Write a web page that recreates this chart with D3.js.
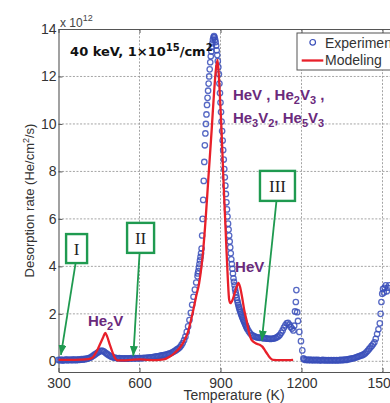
<!DOCTYPE html>
<html><head><meta charset="utf-8">
<script src="https://cdn.jsdelivr.net/npm/d3@7/dist/d3.min.js"></script>
<style>
  html,body{margin:0;padding:0;background:#fff;}
  svg{display:block;}
</style>
</head><body>
<svg id="chart" width="390" height="403"></svg>
<script>
// ---- axis ticks ----
const xTicks = [300, 600, 900, 1200, 1500];
const yTicks = [0, 2, 4, 6, 8, 10, 12, 14];

// ---- modelled desorption rate, [T (K), rate x1e12 He/cm^2/s] ----
const modelCurve = [
  [300,.06],[340,.06],[380,.07],[410,.09],[425,.15],[435,.3],[445,.5],[455,.75],[465,1.0],[473,1.2],
  [480,1.05],[490,.7],[500,.38],[510,.12],[518,.04],[540,.04],[570,.06],[600,.08],[630,.06],[660,.05],
  [690,.08],[713,.2],[730,.35],[750,.58],[765,.85],[780,1.25],[790,1.7],[800,2.2],[810,2.75],[821,3.3],
  [836,4.7],[845,6.0],[855,7.7],[867,9.7],[876,11.3],[883,12.3],[889,12.7],[894,12.0],[899,10.9],[904,9.7],
  [910,7.9],[916,6.3],[921,5.0],[927,3.5],[932,2.6],[937,2.45],[945,2.6],[952,2.85],[960,3.15],[966,3.3],
  [972,3.15],[980,2.7],[988,2.15],[997,1.7],[1005,1.25],[1015,0.9],[1030,0.76],[1045,0.7],[1055,0.62],[1065,0.45],
  [1075,0.28],[1085,0.13],[1095,0.06],[1120,0.05],[1150,0.05],[1169,0.06]
];

// ---- measured desorption rate, split by temperature range ----
const expLow = [
  [300,.06],[305,.04],[310,.07],[315,.03],[320,.06],[325,.05],[330,.08],[335,.04],[340,.06],[345,.07],
  [350,.04],[355,.08],[360,.06],[365,.05],[370,.08],[375,.06],[380,.07],[385,.09],[390,.07],[395,.10],
  [400,.09],[405,.11],[410,.12],[415,.15],[420,.17],[425,.21],[430,.25],[435,.29],[440,.33],[445,.37],
  [450,.40],[455,.43],[460,.45],[465,.43],[470,.40],[475,.35],[480,.31],[485,.27],[490,.23],[495,.20],
  [500,.18],[505,.16],[510,.15],[515,.14],[520,.13],[525,.14],[530,.12],[535,.13],[540,.11],[545,.13],
  [550,.12],[555,.11],[560,.13],[565,.12],[570,.14],[575,.12],[580,.13],[585,.14],[590,.12],[595,.14],
  [600,.13],[605,.14],[610,.13],[615,.15],[620,.14],[625,.15],[630,.16],[635,.15],[640,.17],[645,.17],
  [650,.18],[655,.19],[660,.20],[665,.21],[670,.21],[675,.23],[680,.24],[685,.25],[690,.26],[695,.27],
  [700,.28],[705,.30],[710,.32],[715,.34],[720,.37],[725,.40],[730,.43],[735,.47],[740,.51],[745,.55],
  [750,.60],[755,.68],[760,.77],[765,.89],[770,1.04],[775,1.24],[780,1.47],[785,1.74],[790,2.04],[795,2.38],
  [800,2.72],[805,3.02],[810,3.32],[815,3.58]
];
const expPeak = [
  [816,3.7],[818,3.8],[820,3.95],[822,4.1],[824,4.25],[826,4.4],[828,4.55],[830,4.75],[832,5.3],[834,6.0],
  [836,6.8],[838,7.6],[840,8.4],[842,9.1],[844,9.6],[846,10.0],[848,10.4],[850,10.8],[852,11.1],[854,11.4],
  [856,11.7],[858,12.0],[860,12.3],[862,12.6],[864,12.85],[866,13.05],[868,13.25],[870,13.4],[872,13.55],[874,13.65],
  [876,13.7],[878,13.65],[880,13.55],[882,13.45],[884,13.3],[886,13.1],[888,12.9],[890,12.65],[892,12.4],[894,12.1],
  [896,11.7],[898,11.3],[900,10.9],[902,10.5],[904,10.1],[906,9.7],[908,9.3],[910,8.9],[912,8.5],[914,8.1],
  [916,7.75],[918,7.4],[920,7.05],[922,6.7],[924,6.4],[926,6.1],[928,5.8],[930,5.55],[932,5.3],[934,5.05],
  [936,4.8],[938,4.55],[940,4.3],[942,4.1],[944,3.9],[946,3.7],[948,3.5],[950,3.35],[952,3.2],[954,3.05],
  [956,2.92],[958,2.8],[960,2.68],[962,2.57],[964,2.47],[966,2.38],[968,2.29],[970,2.21],[972,2.14],[974,2.07],
  [976,2.0],[978,1.94],[980,1.88],[982,1.82],[984,1.76],[986,1.71],[988,1.66],[990,1.6],[992,1.55],[994,1.5],
  [996,1.45],[998,1.4],[1000,1.35]
];
const expTail = [
  [1005,1.26],[1010,1.18],[1015,1.12],[1020,1.08],[1025,1.05],[1030,1.03],[1035,1.01],[1040,1.0],[1045,0.99],[1050,1.0],
  [1055,0.98],[1060,0.97],[1065,0.98],[1070,0.96],[1075,0.95],[1080,0.96],[1085,0.94],[1090,0.95],[1095,0.96],[1100,0.97],
  [1105,0.99],[1110,1.02],[1115,1.06],[1120,1.12],[1125,1.2],[1130,1.3],[1135,1.42],[1140,1.52],[1145,1.6],[1150,1.62],
  [1155,1.55],[1160,1.45],[1165,1.38],[1170,1.3],[1173,1.5],[1176,2.1],[1179,2.5],[1181,3.0],[1184,2.07],[1187,1.7],
  [1192,1.24],[1198,0.85],[1203,0.46],[1207,0.12]
];
const expHigh = [
  [1210,.08],[1215,.06],[1220,.07],[1225,.05],[1230,.07],[1235,.05],[1240,.06],[1245,.05],[1250,.06],[1255,.05],
  [1260,.06],[1265,.05],[1270,.04],[1275,.05],[1280,.06],[1285,.04],[1290,.05],[1295,.04],[1300,.05],[1305,.04],
  [1310,.05],[1315,.04],[1320,.05],[1325,.04],[1330,.05],[1335,.04],[1340,.05],[1345,.06],[1350,.05],[1355,.06],
  [1360,.07],[1365,.06],[1370,.08],[1375,.09],[1380,.10],[1385,.11],[1390,.13],[1395,.14],[1400,.16],[1405,.18],
  [1410,.20],[1415,.22],[1420,.24],[1425,.26],[1430,.29],[1435,.33],[1440,.38],[1445,.44],[1450,.51],[1455,.58],
  [1460,.65],[1465,.72],[1470,.80],[1475,.95],[1480,1.15],[1485,1.35],[1490,1.6],[1493,2.0],[1496,2.5],[1499,2.85],
  [1502,3.05],[1505,2.9],[1508,3.1],[1512,3.2],[1516,2.95],[1520,3.1],[1525,3.2]
];

// ---- text annotations (anchored in data space) ----
const speciesLabels = [
  {T: 409, v: 1.49, parts: [["He"],["2","sub"],["V"]]},
  {T: 954, v: 3.78, parts: [["HeV"]]},
  {T: 946, v: 11.01, parts: [["HeV , He"],["2","sub"],["V"],["3","sub"],[" ,"]]},
  {T: 946, v: 10.04, parts: [["He"],["3","sub"],["V"],["2","sub"],[", He"],["5","sub"],["V"],["3","sub"]]}
];
const stageBoxes = [
  {label: "I",   T: 367,  v: 4.75, w: 21, h: 29, tipT: 309,  tipV: 0.27},
  {label: "II",  T: 604,  v: 5.2,  w: 27, h: 30, tipT: 577,  tipV: 0.22},
  {label: "III", T: 1111, v: 7.39, w: 35, h: 30, tipT: 1053, tipV: 0.87}
];

const svg = d3.select("#chart");
const x = d3.scaleLinear().domain([300, 1600]).range([58.5, 409.5]);
const y = d3.scaleLinear().domain([-0.45, 14]).range([372, 29]);
const [yBot, yTop] = y.range();
const [xL, xR] = x.range();

const axisFont = "'Liberation Sans', Arial, Helvetica, sans-serif";
const boldFont = "'DejaVu Sans', 'Liberation Sans', sans-serif";

// dotted grid
const grid = svg.append("g").attr("stroke", "#9a9a9a").attr("stroke-width", 0.9)
  .attr("stroke-dasharray", "2,1.6");
grid.selectAll("line.gx").data(xTicks.filter(d => d > 300)).join("line")
  .attr("x1", d => x(d)).attr("x2", d => x(d)).attr("y1", yTop).attr("y2", yBot);
grid.selectAll("line.gy").data(yTicks.filter(d => d < 14)).join("line")
  .attr("y1", d => y(d)).attr("y2", d => y(d)).attr("x1", xL).attr("x2", xR);

// axes
function styleAxis(g) {
  g.selectAll(".domain").attr("stroke", "#555").attr("stroke-width", 1.1);
  g.selectAll(".tick line").attr("stroke", "#555");
  g.selectAll(".tick text").attr("fill", "#333").style("font-family", axisFont).style("font-size", "14px");
}
svg.append("g").attr("transform", `translate(0,${yBot})`)
  .call(d3.axisBottom(x).tickValues(xTicks).tickFormat(d3.format("d"))
    .tickSize(-4).tickSizeOuter(0).tickPadding(6))
  .call(styleAxis);
svg.append("g").attr("transform", `translate(0,${yTop})`)
  .call(d3.axisTop(x).tickValues(xTicks).tickSize(-4).tickSizeOuter(0).tickFormat(""))
  .call(styleAxis);
svg.append("g").attr("transform", `translate(${xL},0)`)
  .call(d3.axisLeft(y).tickValues(yTicks).tickSize(-4).tickSizeOuter(0).tickPadding(2))
  .call(styleAxis);

// exponent note above the y axis
const expo = svg.append("text").attr("x", xL + 1.5).attr("y", yTop - 2)
  .attr("fill", "#444").style("font-family", axisFont).style("font-size", "12px");
expo.append("tspan").text("x 10");
expo.append("tspan").attr("dy", -6).style("font-size", "9px").text("12");

// axis titles
svg.append("text").attr("x", (xL + xR) / 2).attr("y", 400).attr("text-anchor", "middle")
  .attr("fill", "#333").style("font-family", axisFont).style("font-size", "14px")
  .text("Temperature (K)");
const yl = svg.append("text")
  .attr("transform", `translate(34,${(yTop + yBot) / 2}) rotate(-90)`)
  .attr("text-anchor", "middle").attr("fill", "#333")
  .style("font-family", axisFont).style("font-size", "13px");
yl.append("tspan").text("Desorption rate (He/cm");
yl.append("tspan").attr("dy", -5).style("font-size", "9px").text("2");
yl.append("tspan").attr("dy", 5).text("/s)");

// measured data: open circles
const expAll = [...expLow, ...expPeak, ...expTail, ...expHigh];
svg.append("g").attr("fill", "none").attr("stroke", "#3a4fba").attr("stroke-width", 1.3)
  .attr("stroke-opacity", 0.85)
  .selectAll("circle").data(expAll).join("circle")
  .attr("cx", d => x(d[0])).attr("cy", d => y(d[1])).attr("r", 2.7);

// model curve
svg.append("path").datum(modelCurve)
  .attr("fill", "none").attr("stroke", "#e8202a").attr("stroke-width", 2.3)
  .attr("stroke-linejoin", "round")
  .attr("d", d3.line().x(d => x(d[0])).y(d => y(d[1])).curve(d3.curveMonotoneX));

// title
const title = svg.append("text").attr("x", x(343)).attr("y", y(12.87))
  .attr("fill", "#111").style("font-family", boldFont).style("font-weight", "bold").style("font-size", "13px");
title.append("tspan").text("40 keV, 1\u00d710");
title.append("tspan").attr("dy", -5).style("font-size", "10px").text("15");
title.append("tspan").attr("dy", 5).text("/cm");
title.append("tspan").attr("dy", -5).style("font-size", "10px").text("2");

// species labels
speciesLabels.forEach(l => {
  const t = svg.append("text").attr("x", x(l.T)).attr("y", y(l.v))
    .attr("fill", "#6a2a7c").style("font-family", axisFont).style("font-weight", "bold").style("font-size", "15px");
  let shifted = false;
  l.parts.forEach(([s, kind]) => {
    const sp = t.append("tspan").text(s);
    if (kind === "sub" && !shifted) { sp.attr("dy", 4).style("font-size", "11px"); shifted = true; }
    else if (kind === "sub") { sp.style("font-size", "11px"); }
    else if (shifted) { sp.attr("dy", -4); shifted = false; }
  });
});

// stage boxes with arrows
const green = "#1f9a50";
const defs = svg.append("defs");
defs.append("marker").attr("id", "arrowHead").attr("markerUnits", "userSpaceOnUse")
  .attr("viewBox", "0 0 10 8").attr("refX", 10).attr("refY", 4)
  .attr("markerWidth", 10).attr("markerHeight", 8).attr("orient", "auto")
  .append("path").attr("d", "M0,0 L10,4 L0,8 Z").attr("fill", green);

stageBoxes.forEach(b => {
  const cx = x(b.T), cy = y(b.v);
  svg.append("line").attr("x1", cx - 1).attr("y1", cy + b.h / 2)
    .attr("x2", x(b.tipT)).attr("y2", y(b.tipV))
    .attr("stroke", green).attr("stroke-width", 1.8).attr("marker-end", "url(#arrowHead)");
  svg.append("rect").attr("x", cx - b.w / 2).attr("y", cy - b.h / 2)
    .attr("width", b.w).attr("height", b.h)
    .attr("fill", "#fff").attr("stroke", green).attr("stroke-width", 2.4);
  svg.append("text").attr("x", cx).attr("y", cy + 6).attr("text-anchor", "middle")
    .attr("fill", "#222").style("font-family", "'Liberation Serif', 'Times New Roman', serif")
    .style("font-size", "17px").text(b.label);
});

// legend
const lg = svg.append("g").attr("transform", `translate(297,33)`);
lg.append("rect").attr("width", 130).attr("height", 37).attr("fill", "#fff")
  .attr("stroke", "#555").attr("stroke-width", 1);
lg.append("circle").attr("cx", 15.7).attr("cy", 9.3).attr("r", 2.8)
  .attr("fill", "none").attr("stroke", "#3a4fba").attr("stroke-width", 1.2);
lg.append("text").attr("x", 28).attr("y", 14.5).attr("fill", "#333")
  .style("font-family", axisFont).style("font-size", "14px").text("Experiment");
lg.append("line").attr("x1", 4.7).attr("x2", 26.3).attr("y1", 27.5).attr("y2", 27.5)
  .attr("stroke", "#e8202a").attr("stroke-width", 2.3);
lg.append("text").attr("x", 28).attr("y", 32).attr("fill", "#333")
  .style("font-family", axisFont).style("font-size", "14px").text("Modeling");
</script>
</body></html>
